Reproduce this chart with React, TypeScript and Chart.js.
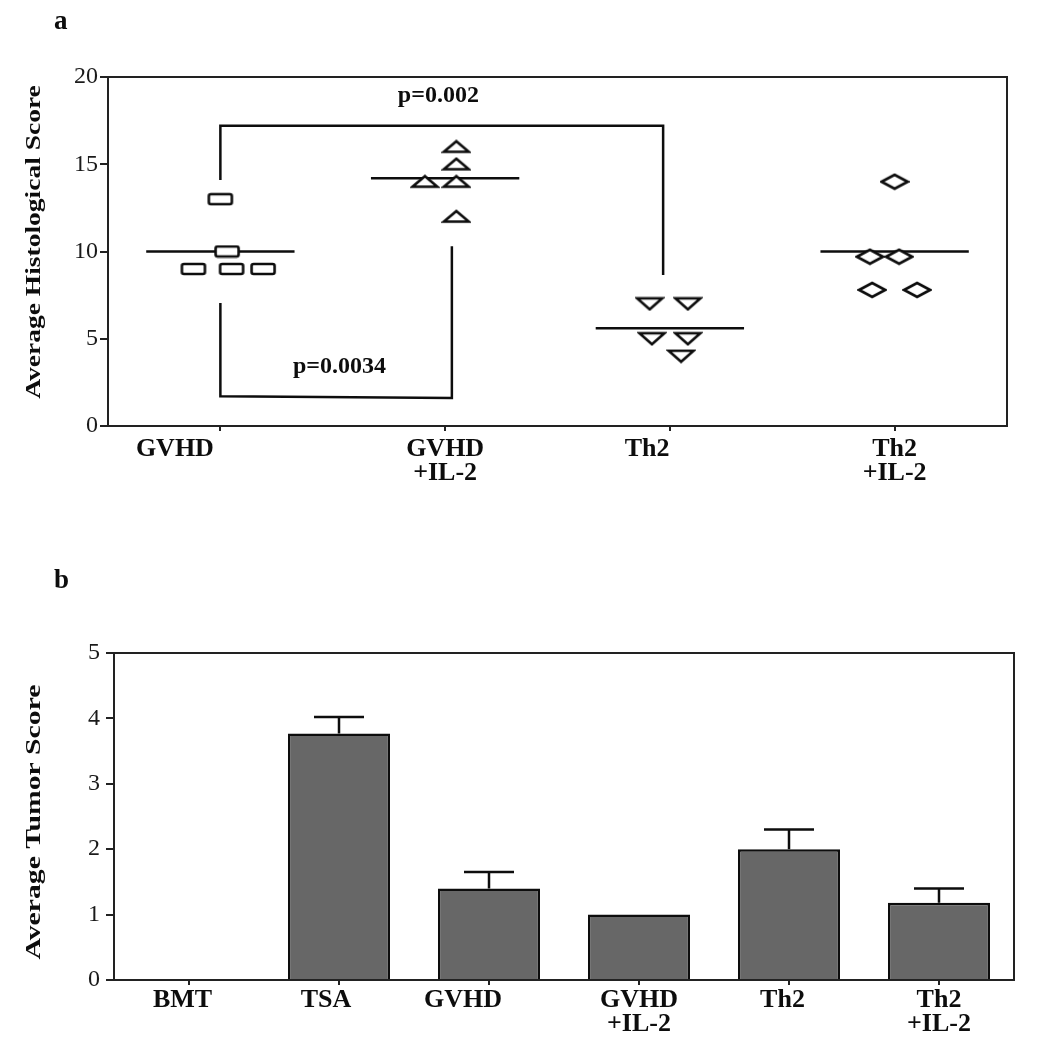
import React, { useEffect, useRef } from 'react';
import { Chart, registerables } from 'chart.js';

Chart.register(...registerables);

// ---------- Panel a data ----------
const groupLabelsA: string[][] = [['GVHD'], ['GVHD', '+IL-2'], ['Th2'], ['Th2', '+IL-2']];
const gvhdScores = [13, 10, 9, 9, 9];
const gvhdJitter = [0, 0.03, -0.12, 0.05, 0.19];
const gvhdIl2Scores = [16, 15, 14, 14, 12];
const gvhdIl2Jitter = [0.05, 0.05, -0.09, 0.05, 0.05];
const th2Scores = [7, 7, 5, 5, 4];
const th2Jitter = [-0.09, 0.08, -0.08, 0.08, 0.05];
const th2Il2Scores = [14, 9.7, 9.7, 7.8, 7.8];
const th2Il2Jitter = [0, -0.11, 0.02, -0.1, 0.1];
const groupMeans = [10, 14.2, 5.6, 10];
const bracketTop = [
  { x: 0, y: 14.1 },
  { x: 0, y: 17.2 },
  { x: 1.97, y: 17.2 },
  { x: 1.97, y: 8.65 },
];
const bracketBottom = [
  { x: 0, y: 7.05 },
  { x: 0, y: 1.7 },
  { x: 1.03, y: 1.6 },
  { x: 1.03, y: 10.3 },
];
const pValueTexts = ['p=0.002', 'p=0.0034'];
const pValueX = [0.97, 0.53];
const pValueY = [18.9, 3.4];

// ---------- Panel b data ----------
const groupLabelsB: string[][] = [['BMT'], ['TSA'], ['GVHD'], ['GVHD', '+IL-2'], ['Th2'], ['Th2', '+IL-2']];
const tumorScores = [0, 3.77, 1.4, 1.0, 2.0, 1.18];
const tumorErrors = [0, 0.25, 0.25, 0, 0.3, 0.22];

const SERIF = '"Liberation Serif", "Times New Roman", serif';
const INK = '#0d0d0d';
const AXIS = '#222';

function makeMarker(kind: string): HTMLCanvasElement {
  const c = document.createElement('canvas');
  const w = 30;
  const h = kind === 'square' ? 14 : kind === 'diamond' ? 18 : 15;
  c.width = w;
  c.height = h;
  const g = c.getContext('2d')!;
  g.lineWidth = 2.6;
  g.strokeStyle = INK;
  g.fillStyle = '#fff';
  g.lineJoin = 'miter';
  g.beginPath();
  if (kind === 'square') {
    const x = 3.5, y = 2, ww = 23, hh = 10, r = 2;
    g.moveTo(x + r, y);
    g.lineTo(x + ww - r, y);
    g.quadraticCurveTo(x + ww, y, x + ww, y + r);
    g.lineTo(x + ww, y + hh - r);
    g.quadraticCurveTo(x + ww, y + hh, x + ww - r, y + hh);
    g.lineTo(x + r, y + hh);
    g.quadraticCurveTo(x, y + hh, x, y + hh - r);
    g.lineTo(x, y + r);
    g.quadraticCurveTo(x, y, x + r, y);
  } else if (kind === 'up') {
    g.moveTo(2.5, 12.5);
    g.lineTo(15, 2);
    g.lineTo(27.5, 12.5);
    g.closePath();
  } else if (kind === 'down') {
    g.moveTo(2.5, 2);
    g.lineTo(27.5, 2);
    g.lineTo(15, 13);
    g.closePath();
  } else {
    g.moveTo(2, 9);
    g.lineTo(15, 2);
    g.lineTo(28, 9);
    g.lineTo(15, 16);
    g.closePath();
  }
  g.fill();
  g.stroke();
  return c;
}

const decorPlugin = {
  id: 'decor',
  afterDraw(chart: any, _args: any, opts: any) {
    const ctx = chart.ctx as CanvasRenderingContext2D;
    const a = chart.chartArea;
    ctx.save();
    ctx.strokeStyle = AXIS;
    ctx.lineWidth = 2;
    ctx.beginPath();
    ctx.moveTo(a.left, a.top);
    ctx.lineTo(a.right, a.top);
    ctx.lineTo(a.right, a.bottom);
    ctx.stroke();
    ctx.fillStyle = INK;
    ctx.font = `bold 27px ${SERIF}`;
    ctx.textAlign = 'left';
    ctx.textBaseline = 'alphabetic';
    ctx.fillText(opts.letter, opts.letterX, opts.letterY);
    ctx.save();
    ctx.translate(opts.titleX, opts.titleY);
    ctx.rotate(-Math.PI / 2);
    ctx.scale(opts.stretch, 1);
    ctx.font = `bold 22px ${SERIF}`;
    ctx.textAlign = 'center';
    ctx.textBaseline = 'middle';
    ctx.fillText(opts.title, 0, 0);
    ctx.restore();
    ctx.restore();
  },
};

const pValuePlugin = {
  id: 'pvalues',
  afterDatasetsDraw(chart: any) {
    const ctx = chart.ctx as CanvasRenderingContext2D;
    const xs = chart.scales.x;
    const ys = chart.scales.y;
    ctx.save();
    ctx.fillStyle = INK;
    ctx.font = `bold 24px ${SERIF}`;
    ctx.textAlign = 'center';
    ctx.textBaseline = 'middle';
    pValueTexts.forEach((t, i) => {
      ctx.fillText(t, xs.getPixelForValue(pValueX[i]), ys.getPixelForValue(pValueY[i]));
    });
    ctx.restore();
  },
};

const errorBarPlugin = {
  id: 'errorbars',
  afterDatasetsDraw(chart: any) {
    const ctx = chart.ctx as CanvasRenderingContext2D;
    const ys = chart.scales.y;
    const meta = chart.getDatasetMeta(0);
    ctx.save();
    ctx.strokeStyle = INK;
    ctx.lineWidth = 2.5;
    tumorErrors.forEach((e, i) => {
      if (!e) return;
      const bar = meta.data[i];
      const x = bar.x;
      const y0 = ys.getPixelForValue(tumorScores[i]);
      const y1 = ys.getPixelForValue(tumorScores[i] + e);
      ctx.beginPath();
      ctx.moveTo(x, y0);
      ctx.lineTo(x, y1);
      ctx.moveTo(x - 25, y1);
      ctx.lineTo(x + 25, y1);
      ctx.stroke();
    });
    ctx.restore();
  },
};

const tickFont = { family: SERIF, size: 24 };
const labelFont = { family: SERIF, size: 26, weight: 'bold', lineHeight: 0.93 };

function PanelA() {
  const ref = useRef<HTMLCanvasElement>(null);
  useEffect(() => {
    const square = makeMarker('square');
    const up = makeMarker('up');
    const down = makeMarker('down');
    const diamond = makeMarker('diamond');
    const groups = [
      { scores: gvhdScores, jitter: gvhdJitter, marker: square },
      { scores: gvhdIl2Scores, jitter: gvhdIl2Jitter, marker: up },
      { scores: th2Scores, jitter: th2Jitter, marker: down },
      { scores: th2Il2Scores, jitter: th2Il2Jitter, marker: diamond },
    ];
    const lineStyle = {
      showLine: true,
      pointRadius: 0,
      borderColor: INK,
      borderWidth: 2.5,
      tension: 0,
      order: 2,
    };
    const datasets: any[] = [];
    groups.forEach((g, gi) => {
      datasets.push({
        data: g.scores.map((v, i) => ({ x: gi + g.jitter[i], y: v })),
        pointStyle: g.marker,
        pointRadius: 6,
        order: 0,
      });
    });
    groupMeans.forEach((m, gi) => {
      datasets.push({
        ...lineStyle,
        data: [
          { x: gi - 0.33, y: m },
          { x: gi + 0.33, y: m },
        ],
      });
    });
    datasets.push({ ...lineStyle, data: bracketTop });
    datasets.push({ ...lineStyle, data: bracketBottom });

    const labelShift = [14, 0, 7, 0];
    const chart = new Chart(ref.current!, {
      type: 'scatter',
      data: { datasets },
      options: {
        animation: false,
        responsive: false,
        events: [],
        layout: { padding: { left: 70, right: 43, top: 77, bottom: 10 } },
        plugins: {
          legend: { display: false },
          tooltip: { enabled: false },
          decor: {
            letter: 'a',
            letterX: 54,
            letterY: 29,
            title: 'Average Histological Score',
            titleX: 34,
            titleY: 242,
            stretch: 1.25,
          },
        } as any,
        scales: {
          x: {
            type: 'linear',
            min: -0.5,
            max: 3.5,
            afterBuildTicks: (s: any) => {
              s.ticks = groupLabelsA.map((_, i) => ({ value: i }));
            },
            afterFit: (s: any) => {
              s.height = 94;
            },
            ticks: {
              autoSkip: false,
              maxRotation: 0,
              padding: 6,
              color: INK,
              font: labelFont,
              callback: (v: any) => {
                const i = Math.round(Number(v));
                const l = groupLabelsA[i];
                if (!l) return '';
                if (l.length === 1) return l[0] + '\u00A0'.repeat(labelShift[i]);
                return l;
              },
            },
            grid: { display: true, drawOnChartArea: false, drawTicks: true, tickLength: 5, color: AXIS, lineWidth: 2 },
            border: { display: true, color: AXIS, width: 2 },
          },
          y: {
            min: 0,
            max: 20,
            afterFit: (s: any) => {
              s.width = 38;
            },
            ticks: {
              stepSize: 5,
              padding: 2,
              color: '#1a1a1a',
              font: tickFont,
            },
            grid: { display: true, drawOnChartArea: false, drawTicks: true, tickLength: 8, color: AXIS, lineWidth: 2 },
            border: { display: true, color: AXIS, width: 2 },
          },
        },
      } as any,
      plugins: [decorPlugin, pValuePlugin] as any,
    });
    return () => chart.destroy();
  }, []);
  return (
    <canvas
      ref={ref}
      width={1050}
      height={530}
      style={{ position: 'absolute', left: 0, top: 0, width: 1050, height: 530 }}
    />
  );
}

function PanelB() {
  const ref = useRef<HTMLCanvasElement>(null);
  useEffect(() => {
    const labelShift = [2, 4, 8, 0, 2, 0];
    const chart = new Chart(ref.current!, {
      type: 'bar',
      data: {
        labels: groupLabelsB,
        datasets: [
          {
            data: tumorScores,
            backgroundColor: '#676767',
            borderColor: INK,
            borderWidth: 2.5,
            borderSkipped: 'start',
            categoryPercentage: 1,
            barPercentage: 0.68,
          },
        ],
      },
      options: {
        animation: false,
        responsive: false,
        events: [],
        layout: { padding: { left: 70, right: 36, top: 123, bottom: 10 } },
        plugins: {
          legend: { display: false },
          tooltip: { enabled: false },
          decor: {
            letter: 'b',
            letterX: 54,
            letterY: 58,
            title: 'Average Tumor Score',
            titleX: 34,
            titleY: 292,
            stretch: 1.35,
          },
        } as any,
        scales: {
          x: {
            afterFit: (s: any) => {
              s.height = 64;
            },
            ticks: {
              autoSkip: false,
              maxRotation: 0,
              padding: 3,
              color: INK,
              font: labelFont,
              callback: (_v: any, i: number) => {
                const l = groupLabelsB[i];
                if (!l) return '';
                if (l.length === 1) return l[0] + '\u00A0'.repeat(labelShift[i]);
                return l;
              },
            },
            grid: { display: true, offset: false, drawOnChartArea: false, drawTicks: true, tickLength: 5, color: AXIS, lineWidth: 2 },
            border: { display: true, color: AXIS, width: 2 },
          },
          y: {
            min: 0,
            max: 5,
            afterFit: (s: any) => {
              s.width = 44;
            },
            ticks: {
              stepSize: 1,
              padding: 6,
              color: '#1a1a1a',
              font: tickFont,
            },
            grid: { display: true, drawOnChartArea: false, drawTicks: true, tickLength: 8, color: AXIS, lineWidth: 2 },
            border: { display: true, color: AXIS, width: 2 },
          },
        },
      } as any,
      plugins: [decorPlugin, errorBarPlugin] as any,
    });
    return () => chart.destroy();
  }, []);
  return (
    <canvas
      ref={ref}
      width={1050}
      height={524}
      style={{ position: 'absolute', left: 0, top: 530, width: 1050, height: 524 }}
    />
  );
}

export default function App() {
  return (
    <div style={{ position: 'absolute', left: 0, top: 0, width: 1050, height: 1054, background: '#fff' }}>
      <PanelA />
      <PanelB />
    </div>
  );
}
